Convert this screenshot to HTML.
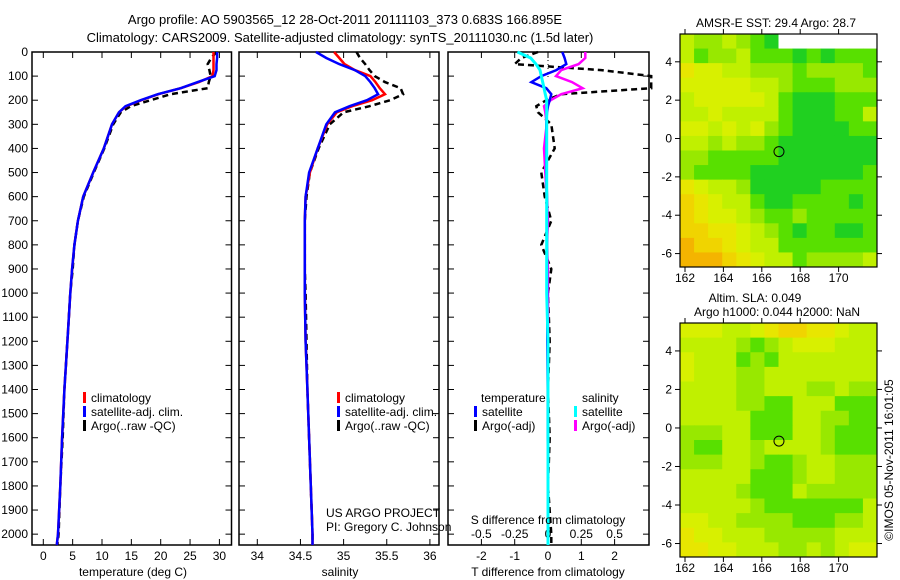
<!DOCTYPE html>
<html><head><meta charset="utf-8">
<style>
html,body{margin:0;padding:0;background:#fff;}
svg{display:block;font-family:"Liberation Sans",sans-serif;}
text{font-size:12px;fill:#000;}
</style></head>
<body>
<svg id="fig" width="900" height="580" viewBox="0 0 900 580" xmlns="http://www.w3.org/2000/svg">
<rect width="900" height="580" fill="#fff"/>
<text x="345" y="24" text-anchor="middle" style="font-size:13px">Argo profile: AO 5903565_12 28-Oct-2011 20111103_373 0.683S 166.895E</text>
<text x="340" y="42" text-anchor="middle" style="font-size:13px">Climatology: CARS2009. Satellite-adjusted climatology: synTS_20111030.nc (1.5d later)</text>
<g id="g"></g>
<text transform="translate(893,460) rotate(-90)" text-anchor="middle">©IMOS 05-Nov-2011 16:01:05</text>
</svg>
<script>
// ---- profile data ----
const depths = [0,25,50,75,100,125,150,175,200,225,250,300,400,500,600,700,800,900,1000,1200,1400,1600,1800,2000,2045];
const tempClim = [29.0,29.0,29.0,29.0,28.8,26.5,23.4,19.6,16.7,14.1,12.9,11.7,10.3,8.5,6.8,5.9,5.3,4.9,4.6,4.1,3.6,3.2,2.9,2.5,2.3];
const tempSat  = [29.6,29.6,29.5,29.5,29.2,26.3,23.4,19.5,16.6,14.0,12.9,11.7,10.3,8.5,6.8,5.9,5.3,4.9,4.6,4.1,3.6,3.2,2.9,2.5,2.3];
const tempArgo = [29.5,28.6,28.0,28.3,28.5,28.2,28.0,21.7,18.3,14.9,13.2,11.9,10.4,8.6,6.9,5.9,5.3,5.0,4.6,4.1,3.6,3.3,2.9,2.6,2.4];
const salClim  = [34.89,34.95,35.01,35.13,35.31,35.37,35.42,35.48,35.33,35.10,34.92,34.81,34.70,34.61,34.56,34.55,34.55,34.55,34.55,34.56,34.58,34.60,34.62,34.64,34.64];
const salSat   = [34.68,34.80,34.95,35.13,35.25,35.31,35.36,35.40,35.27,35.07,34.90,34.80,34.70,34.60,34.56,34.55,34.55,34.55,34.55,34.56,34.58,34.60,34.62,34.64,34.64];
const salArgo  = [35.15,35.19,35.25,35.30,35.36,35.48,35.66,35.69,35.54,35.30,35.00,34.84,34.71,34.61,34.57,34.55,34.55,34.55,34.56,34.57,34.58,34.60,34.62,34.64,34.64];
const dTsat  = [0.43,0.5,0.55,0.25,-0.2,-0.5,-0.05,0.1,0.05,0.0,-0.03,-0.05,-0.05,-0.05,-0.03,-0.03,-0.03,-0.03,-0.02,-0.02,-0.01,-0.01,0,0,0];
const dTargo = [-0.3,-0.8,-1.0,1.6,3.1,3.1,3.1,0.4,-0.05,-0.35,-0.3,0.1,0.2,-0.2,-0.1,0.1,-0.2,0.1,0.0,0.05,0.0,0.05,0.0,0.1,0.1];
const dSsat  = [-0.23,-0.13,-0.09,-0.06,-0.05,-0.04,-0.03,-0.02,-0.01,-0.01,-0.01,-0.01,-0.01,-0.01,-0.01,-0.01,-0.01,-0.01,-0.01,0,0,0,0,0,0];
const dSargo = [0.28,0.28,0.23,0.1,0.06,0.18,0.26,0.1,0.02,-0.03,-0.02,-0.01,-0.03,-0.02,-0.01,0,-0.01,0,0,0,0,0,0,0,0];
const depthTicks = [0,100,200,300,400,500,600,700,800,900,1000,1100,1200,1300,1400,1500,1600,1700,1800,1900,2000];
const tempTicks = [0,5,10,15,20,25,30];
const salTicks = [34,34.5,35,35.5,36];
const salTickLabels = ["34","34.5","35","35.5","36"];
const dTTicks = [-2,-1,0,1,2];
const dSTicks = [-0.5,-0.25,0,0.25,0.5];
const dSTickLabels = ["-0.5","-0.25","0","0.25","0.5"];
// ---- map data (digit = colour class, w = no data), north row first ----
const sstGrid = [
"5665678wwwwwww","57665777878777","34455666766667","44444556777666",
"54444457888777","55455557888775","44545467888877","55656678888888",
"66777778888888","67777888888887","34556888887777","23455788777787",
"23445677677777","22334567877887","12234557777777","11123455766665"];
const slaGrid = [
"44455432233455","55556765444555","45557675555555","45556655555555",
"55556655566566","55556677555777","55555777556677","66655777556777",
"67755655556777","66655677655666","55555777655666","55556777566666",
"55555677777775","44556666777665","34455566666555","33445556656544"];
const lonTicks = [162,164,166,168,170];
const latTicks = [-6,-4,-2,0,2,4];
const argoPos = [166.895,-0.683];

const NS="http://www.w3.org/2000/svg";
const G=document.getElementById('g');
function el(t,a,p){const e=document.createElementNS(NS,t);for(const k in a)e.setAttribute(k,a[k]);(p||G).appendChild(e);return e;}
function txt(s,x,y,anchor,p){const e=el('text',{x:x,y:y,'text-anchor':anchor||'start'},p);e.textContent=s;return e;}

const PT=52,PB=545;
const yD=d=>PT+(PB-PT)*d/2045;
function frame(x0,x1,name){
  const r=el('rect',{x:x0,y:PT,width:x1-x0,height:PB-PT,fill:'none',stroke:'#000','stroke-width':1.5});
  
  
}
function yticks(x0,x1,labels){
  depthTicks.forEach(d=>{
    el('line',{x1:x0,x2:x0+6,y1:yD(d),y2:yD(d),stroke:'#000'});
    el('line',{x1:x1,x2:x1-6,y1:yD(d),y2:yD(d),stroke:'#000'});
    if(labels){const t=txt(String(d),x0-4,yD(d)+4,'end');
      
      }
  });
}
function line(xs,xf,color,name,dash,w){
  const pts=depths.map((d,i)=>xf(xs[i]).toFixed(1)+','+yD(d).toFixed(1)).join(' ');
  const e=el('polyline',{points:pts,fill:'none',stroke:color,'stroke-width':w||2.5,'stroke-dasharray':dash||'none'});
  
  
}
function xticks(ticks,labels,xf,ty,name,top){
  ticks.forEach((v,i)=>{
    const x=xf(v);
    el('line',{x1:x,x2:x,y1:PB,y2:PB-6,stroke:'#000'});
    if(top) el('line',{x1:x,x2:x,y1:PT,y2:PT+6,stroke:'#000'});
    const t=txt(labels[i],x,ty,'middle');
    
    
  });
}
function legend(x,y,color,label){
  el('rect',{x:x,y:y-10,width:3,height:11,fill:color});
  const t=txt(label,x+8,y);
  
  
}

// Panel 1 temperature
const xT=v=>43.3+v*5.87;
frame(32,231.5,'temperature-panel');
yticks(32,231.5,true);
xticks(tempTicks,tempTicks.map(String),xT,560,'temperature-tick-label',true);
line(tempArgo,xT,'#000','temp-argo-line','6,4',2.5);
line(tempClim,xT,'#ff0000','temp-climatology-line');
line(tempSat,xT,'#0000ff','temp-satellite-line');
txt('temperature (deg C)',133,576,'middle');
legend(83,402,'#ff0000','climatology');
legend(83,416,'#0000ff','satellite-adj. clim.');
legend(83,430,'#000','Argo(..raw -QC)');

// Panel 2 salinity
const xS=v=>257.3+(v-34)*86.3;
frame(239,439,'salinity-panel');
yticks(239,439,false);
xticks(salTicks,salTickLabels,xS,560,'salinity-tick-label',true);
line(salArgo,xS,'#000','sal-argo-line','6,4',2.5);
line(salClim,xS,'#ff0000','sal-climatology-line');
line(salSat,xS,'#0000ff','sal-satellite-line');
txt('salinity',340,576,'middle');
legend(337,402,'#ff0000','climatology');
legend(337,416,'#0000ff','satellite-adj. clim.');
legend(337,430,'#000','Argo(..raw -QC)');
txt('US ARGO PROJECT',326,517);
txt('PI: Gregory C. Johnson',326,531);

// Panel 3 differences
const xDT=v=>548+v*33.3;
const xDS=v=>548+v*133.2;
frame(448,649,'difference-panel');
yticks(448,649,false);
el('line',{x1:548,x2:548,y1:PT,y2:yD(110),stroke:'#000','stroke-dasharray':'1,3'});
xticks(dTTicks,dTTicks.map(String),xDT,560,'t-diff-tick-label',true);
dSTicks.forEach((v,i)=>{const t=txt(dSTickLabels[i],xDS(v),538,'middle');
  
  });
line(dTargo,xDT,'#000','t-diff-argo-line','6,4',2.5);
line(dSargo,xDS,'#ff00ff','s-diff-argo-line');
line(dTsat,xDT,'#0000ff','t-diff-satellite-line');
line(dSsat,xDS,'#00ffff','s-diff-satellite-line',null,3);
txt('S difference from climatology',548,524,'middle');
txt('T difference from climatology',548,576,'middle');
txt('temperature',481,402);
txt('salinity',582,402);
legend(474,416,'#0000ff','satellite');
legend(474,430,'#000','Argo(-adj)');
legend(574,416,'#00ffff','satellite');
legend(574,430,'#ff00ff','Argo(-adj)');

// Maps
const pal={'0':'#f09000','1':'#f4b400','2':'#f0d400','3':'#e8e600','4':'#d8f000','5':'#c0f000','6':'#98e800','7':'#58e000','8':'#20d020','9':'#00c040','w':'#ffffff'};
function map(grid,top,bottom,name,title1,title2){
  const L=680,R=877,lon0=161.74,lon1=172.0,lat0=5.45,lat1=-6.7;
  const xL=v=>L+(v-lon0)/(lon1-lon0)*(R-L);
  const yL=v=>top+(lat0-v)/(lat0-lat1)*(bottom-top);
  const g=el('g',{});
  
  
  const rows=grid.length,cols=grid[0].length;
  const cw=(R-L)/cols,ch=(bottom-top)/rows;
  grid.forEach((row,r)=>{[...row].forEach((c,k)=>{
    const cell=el('rect',{x:L+k*cw,y:top+r*ch,width:cw+0.5,height:ch+0.5,fill:pal[c]},g);
    
    
  });});
  el('rect',{x:L,y:top,width:R-L,height:bottom-top,fill:'none',stroke:'#000','stroke-width':1.2},g);
  lonTicks.forEach(v=>{const x=xL(v);
    el('line',{x1:x,x2:x,y1:bottom,y2:bottom+5,stroke:'#000'},g);
    el('line',{x1:x,x2:x,y1:top,y2:top-5,stroke:'#000'},g);
    const t=txt(String(v),x,bottom+15,'middle',g);
    
    });
  latTicks.forEach(v=>{const y=yL(v);
    el('line',{x1:L,x2:L-5,y1:y,y2:y,stroke:'#000'},g);
    el('line',{x1:R,x2:R+5,y1:y,y2:y,stroke:'#000'},g);
    const t=txt(String(v),L-8,y+4,'end',g);
    
    });
  const c=el('circle',{cx:xL(argoPos[0]),cy:yL(argoPos[1]),r:5,fill:'none',stroke:'#000'},g);
  
  
  const t1=txt(title1[0],title1[1],title1[2],'middle',g);
  
  
  if(title2){const t2=txt(title2[0],title2[1],title2[2],'middle',g);
    
    }
}
map(sstGrid,34,267,'sst-map',['AMSR-E SST: 29.4  Argo: 28.7',776,27]);
map(slaGrid,323,557,'sla-map',['Altim. SLA: 0.049',755,302],['Argo h1000: 0.044 h2000: NaN',777,316]);
</script>
</body></html>
